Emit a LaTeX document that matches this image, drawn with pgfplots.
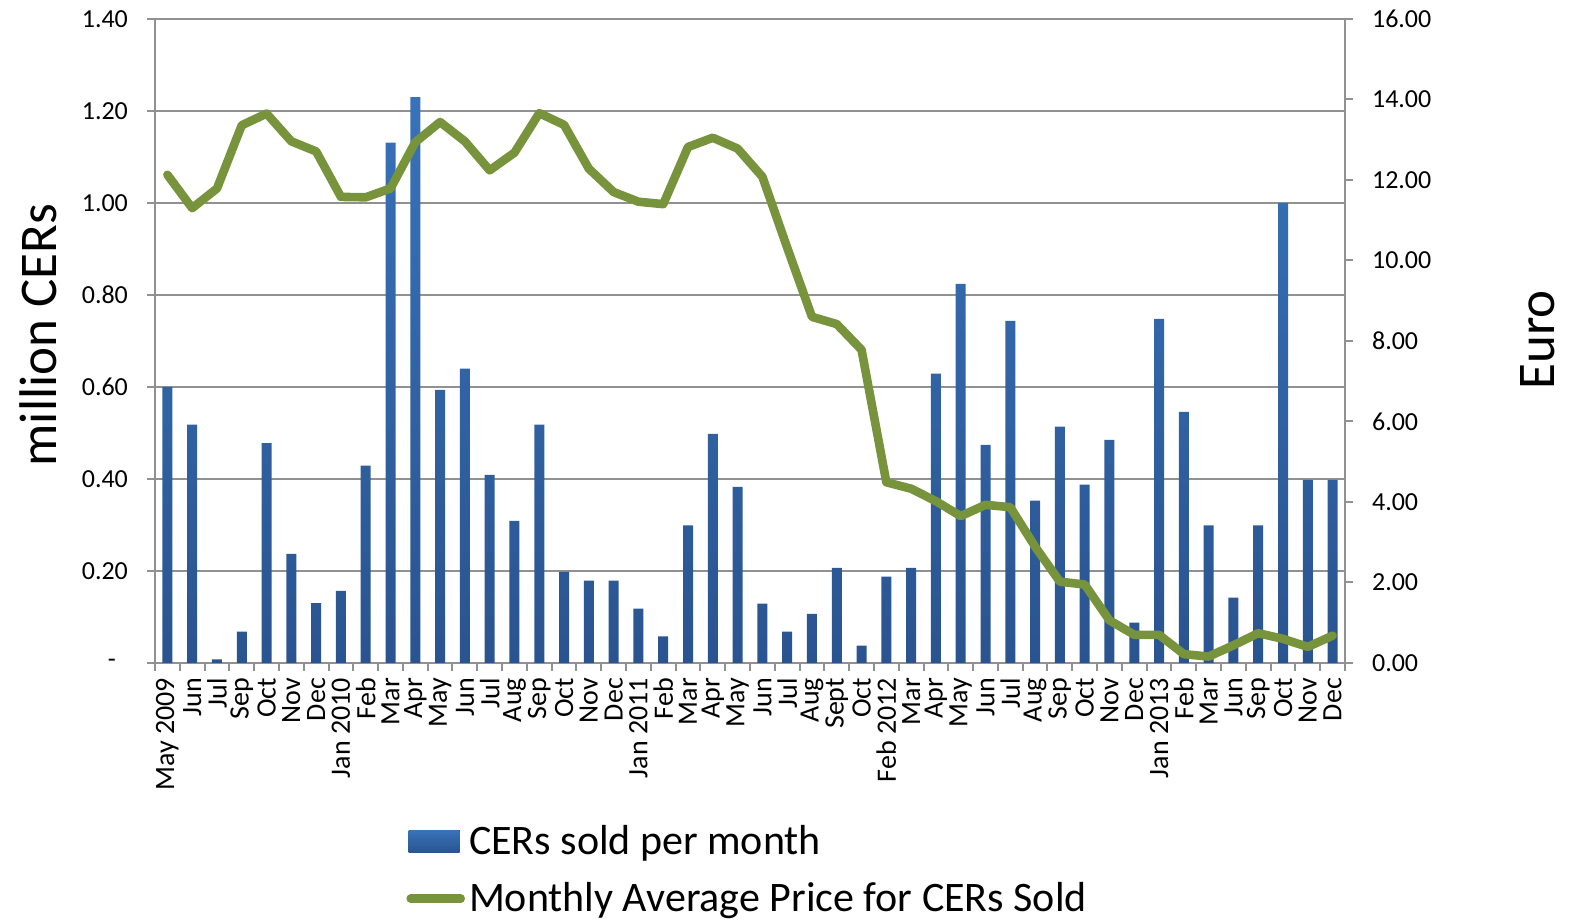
\documentclass[border=0pt]{standalone}
\usepackage{fontspec}
\setmainfont{Carlito}
\usepackage{pgfplots}
\usepackage{pgfplotstable}
\pgfplotsset{compat=1.18}
\definecolor{barTop}{RGB}{56,114,186}
\definecolor{barBot}{RGB}{42,84,143}
\definecolor{lineG}{RGB}{119,147,60}
\definecolor{gridC}{RGB}{145,145,145}

\pgfplotstableread{
x cers price
0 0.600 12.13
1 0.518 11.30
2 0.008 11.79
3 0.068 13.36
4 0.478 13.65
5 0.237 12.96
6 0.130 12.71
7 0.157 11.58
8 0.429 11.57
9 1.131 11.79
10 1.230 12.94
11 0.594 13.44
12 0.640 12.96
13 0.409 12.24
14 0.309 12.68
15 0.518 13.66
16 0.198 13.37
17 0.179 12.28
18 0.179 11.70
19 0.118 11.46
20 0.058 11.40
21 0.299 12.82
22 0.498 13.05
23 0.383 12.78
24 0.129 12.08
25 0.068 10.32
26 0.107 8.60
27 0.207 8.42
28 0.038 7.78
29 0.188 4.49
30 0.207 4.33
31 0.629 4.02
32 0.824 3.65
33 0.474 3.93
34 0.744 3.87
35 0.353 2.89
36 0.514 2.02
37 0.388 1.95
38 0.485 1.06
39 0.088 0.70
40 0.748 0.70
41 0.546 0.22
42 0.299 0.16
43 0.142 0.44
44 0.299 0.74
45 1.000 0.60
46 0.398 0.40
47 0.398 0.68
}\data

\begin{document}
\begin{tikzpicture}
\path[use as bounding box] (-77.5pt,-128.5pt) rectangle (708pt,331.5pt);
\begin{axis}[
  at={(0,0)}, anchor=south west,
  scale only axis, width=595pt, height=322pt,
  xmin=-0.5, xmax=47.5, ymin=0, ymax=1.4,
  axis x line*=bottom, axis y line*=left,
  axis line style={draw=gridC, line width=1pt},
  tick align=outside,
  major tick length=4pt, minor tick length=4pt,
  xtick={0,...,47},
  xticklabels={May 2009,Jun,Jul,Sep,Oct,Nov,Dec,Jan 2010,Feb,Mar,Apr,May,Jun,Jul,Aug,Sep,Oct,Nov,Dec,Jan 2011,Feb,Mar,Apr,May,Jun,Jul,Aug,Sept,Oct,Feb 2012,Mar,Apr,May,Jun,Jul,Aug,Sep,Oct,Nov,Dec,Jan 2013,Feb,Mar,Jun,Sep,Oct,Nov,Dec},
  minor xtick={-0.5,0.5,...,47.5},
  x tick style={draw=none},
  minor x tick style={draw=gridC, line width=1pt},
  xticklabel style={rotate=90, anchor=east, font=\fontsize{14pt}{14pt}\selectfont},
  ytick={0,0.2,0.4,0.6,0.8,1.0,1.2,1.4},
  yticklabels={-\hspace*{6pt},0.20,0.40,0.60,0.80,1.00,1.20,1.40},
  y tick style={draw=gridC, line width=1pt},
  yticklabel style={font=\fontsize{13pt}{13pt}\selectfont, xshift=-6pt},
  ymajorgrids, grid style={draw=gridC, line width=1pt},
  ylabel={million CERs},
  ylabel style={at={(axis description cs:-0.0979,0.509)}, anchor=center, font=\fontsize{26.5pt}{26.5pt}\selectfont},
]
\addplot[ybar, bar width=5pt, draw=none, top color=barTop, bottom color=barBot] table[x=x,y=cers]{\data};
\end{axis}
\begin{axis}[
  at={(0,0)}, anchor=south west,
  scale only axis, width=595pt, height=322pt,
  xmin=-0.5, xmax=47.5, ymin=0, ymax=16,
  axis x line=none, axis y line*=right,
  axis line style={draw=gridC, line width=1pt},
  tick align=outside, major tick length=4pt,
  ytick={0,2,4,6,8,10,12,14,16},
  yticklabels={0.00,2.00,4.00,6.00,8.00,10.00,12.00,14.00,16.00},
  y tick style={draw=gridC, line width=1pt},
  yticklabel style={font=\fontsize{13pt}{13pt}\selectfont, xshift=6pt},
  ylabel={Euro},
  ylabel style={at={(axis description cs:1.162,0.502)}, anchor=center, font=\fontsize{26.5pt}{26.5pt}\selectfont},
  legend style={draw=none, fill=none, at={(axis description cs:0,0)}, anchor=north west,
    xshift=122.5pt, yshift=-77pt, font=\fontsize{21pt}{25pt}\selectfont, row sep=8.5pt},
  legend cell align=left,
]
\addlegendimage{legend image code/.code={\fill[draw=none,top color=barTop,bottom color=barBot] (0pt,-5.5pt) rectangle (25.5pt,5.5pt);}}
\addlegendentry{CERs sold per month}
\addplot[lineG, line width=4.3pt, line join=round, line cap=round,
  legend image code/.code={\draw[lineG, line width=4.3pt, line cap=round] (1pt,0pt) -- (26pt,0pt);}]
  table[x=x,y=price]{\data};
\addlegendentry{Monthly Average Price for CERs Sold}
\end{axis}
\end{tikzpicture}
\end{document}
